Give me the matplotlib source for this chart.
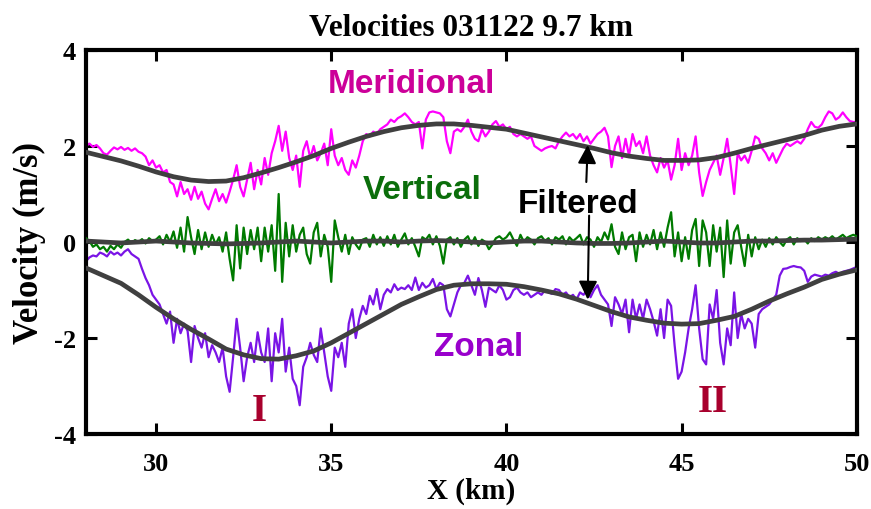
import numpy as np
import matplotlib
matplotlib.use('Agg')
import matplotlib.pyplot as plt

plt.rcParams['axes.unicode_minus'] = False

# ---------------- data ----------------
x_start, x_end = 28.0, 50.0

# raw series, one value every 0.1 km from 28.0 to 50.0
meridional = [
    2.0, 2.05, 1.98, 2.02, 1.95, 1.85, 1.82, 1.9, 1.97, 1.93,
    1.98, 1.92, 1.96, 1.9, 1.95, 1.88, 1.85, 1.78, 1.6, 1.7,
    1.55, 1.6, 1.45, 1.5, 1.25, 1.2, 0.95, 1.25, 1.0, 1.1,
    0.88, 1.15, 0.9, 1.05, 0.8, 0.68, 0.9, 1.1, 0.85, 1.0,
    0.82, 1.05, 1.3, 1.6, 1.15, 0.95, 1.3, 1.65, 1.1, 1.5,
    1.2, 1.75, 1.4, 1.85, 2.1, 2.42, 1.9, 2.3, 1.75, 1.5,
    1.8, 1.15, 1.9, 2.1, 1.75, 2.0, 1.7, 1.85, 2.05, 1.6,
    2.35, 1.8, 1.6, 1.75, 1.5, 1.4, 1.7, 1.55, 1.8, 2.1,
    2.25, 2.2, 2.3, 2.25, 2.35, 2.4, 2.45, 2.55, 2.5, 2.58,
    2.62, 2.68, 2.6, 2.5, 2.45, 2.5, 1.95, 2.55, 2.7, 2.72,
    2.7, 2.68, 2.6, 2.1, 1.85, 2.3, 2.35, 2.3, 2.4, 2.55,
    2.3, 2.15, 2.1, 2.35, 2.2, 2.3, 2.45, 2.52, 2.4, 2.45,
    2.35, 2.4, 2.25, 2.2, 2.25, 2.2, 2.15, 2.2, 2.0, 1.95,
    1.9, 1.95, 1.98, 2.0, 1.95, 2.1, 2.2, 2.28, 2.2, 2.25,
    2.15, 2.25, 2.1, 2.2, 2.05, 2.15, 2.25, 2.3, 2.38, 2.2,
    1.56, 2.0, 2.2, 1.75, 2.15, 1.8, 2.25, 2.0, 2.1, 1.85,
    2.2, 1.8, 1.6, 1.45, 1.75, 1.55, 1.7, 1.3, 1.6, 2.15,
    1.5, 1.85, 1.6, 1.8, 2.2, 1.45, 0.96, 1.25, 1.5, 1.65,
    1.8, 1.4, 1.75, 2.15, 1.6, 1.0, 1.85, 1.7, 1.8, 1.65,
    1.9, 2.2, 2.15, 1.95, 1.85, 1.7, 1.85, 1.65, 1.8, 1.95,
    2.05, 2.0, 2.05, 2.1, 2.05, 2.15, 2.35, 2.5, 2.4, 2.38,
    2.45, 2.6, 2.72, 2.68, 2.55, 2.6, 2.7, 2.6, 2.52, 2.5,
    2.5,
]

vertical = [
    0.08, 0.02, -0.1, -0.05, -0.15, -0.1, -0.2, -0.08, -0.15, -0.05,
    -0.12, 0.0, 0.05, -0.02, 0.04, 0.0, 0.06, -0.03, 0.08, 0.02,
    0.05, 0.12, -0.05, 0.15, 0.0, 0.22, -0.12, 0.3, -0.2, 0.52,
    0.1, -0.25, 0.25, -0.15, 0.2, -0.1, 0.15, -0.05, 0.1, -0.2,
    0.2, -0.35, -0.8, 0.35, -0.55, 0.3, -0.25, 0.25, -0.15, 0.3,
    -0.4, 0.3, -0.2, 0.35, -0.6, 1.0, -0.83, 0.4, -0.3, 0.35,
    -0.2, 0.15, 0.3, -0.25, -0.45, 0.2, 0.4, -0.3, 0.15, -0.1,
    -0.83, 0.45, 0.1, -0.2, 0.15, -0.25, 0.1, -0.05, -0.15, 0.05,
    0.08, -0.1, 0.15, -0.05, 0.1, -0.08, 0.12, -0.05, 0.15, -0.1,
    0.05, 0.18, -0.05, 0.08, -0.1, -0.3, 0.1, 0.05, 0.15, -0.05,
    0.12, -0.08, -0.45, 0.05, 0.1, -0.05, 0.08, -0.1, 0.05, 0.12,
    -0.05, 0.1, -0.08, 0.05, 0.0, -0.15, -0.05, 0.08, 0.12, 0.05,
    0.1, 0.2, 0.05, -0.08, 0.15, 0.0, 0.1, 0.05, -0.05, 0.08,
    0.12, 0.02, 0.08, -0.05, 0.1, 0.05, 0.12, -0.05, 0.1, 0.02,
    0.08, 0.15, -0.05, 0.1, 0.05, -0.1, 0.1, 0.0, 0.2, 0.05,
    0.37, -0.1, -0.25, 0.2, -0.15, 0.1, 0.15, -0.4, 0.2, -0.1,
    0.15, -0.05, 0.25, -0.15, 0.2, -0.1, 0.3, 0.62, -0.3, 0.2,
    -0.4, 0.1, -0.35, 0.25, 0.48, -0.5, 0.45, 0.2, -0.5, 0.35,
    -0.2, 0.3, -0.73, 0.45, -0.45, 0.2, 0.35, -0.1, -0.5, 0.15,
    -0.3, 0.1, -0.15, 0.05, -0.1, 0.08, -0.05, 0.1, 0.0, -0.08,
    0.05, 0.1, -0.05, 0.08, 0.02, 0.06, -0.03, 0.08, 0.02, 0.1,
    0.05, 0.1, 0.06, 0.12, 0.05, 0.1, 0.15, 0.08, 0.12, 0.15,
    0.12,
]

zonal = [
    -0.4, -0.32, -0.28, -0.3, -0.22, -0.25, -0.3, -0.2, -0.26, -0.22,
    -0.28, -0.2, -0.15, -0.25, -0.3, -0.35, -0.56, -0.75, -0.9, -1.1,
    -1.2, -1.3, -1.5, -1.7, -1.45, -2.1, -1.6, -1.9, -1.7, -1.85,
    -2.5, -1.75, -2.0, -2.2, -1.9, -2.4, -2.15, -2.3, -2.5, -2.2,
    -2.8, -3.12, -2.4, -1.6, -2.2, -2.9, -2.4, -2.1, -2.5, -1.88,
    -2.3, -2.5, -1.8, -2.9, -1.9, -2.3, -1.6, -2.7, -2.2, -2.85,
    -3.0, -3.4, -2.6, -2.4, -2.1, -2.35, -2.5, -1.8, -2.3, -2.8,
    -3.1, -2.2, -2.4, -2.1, -2.6, -1.7, -1.4, -2.0, -1.6, -1.33,
    -1.5, -1.12, -1.3, -0.98, -1.4, -1.1, -0.98, -1.05, -0.88, -1.0,
    -0.95, -0.98, -0.9, -1.0, -0.74, -1.0, -0.85, -0.95, -0.9, -0.77,
    -0.98, -0.85, -0.9, -1.4, -1.55, -1.3, -1.05, -0.9, -0.85, -0.7,
    -0.9, -1.1, -0.75, -1.0, -1.35, -0.95, -1.0, -1.05, -0.9, -1.0,
    -1.2, -1.15, -1.0, -0.95, -1.05, -1.1, -1.05, -1.15, -1.1, -1.05,
    -1.1, -1.0, -1.05, -1.08, -0.98, -1.0, -1.1, -1.05, -1.15, -1.1,
    -1.2, -1.05, -1.1, -1.0, -1.15, -1.0, -0.9, -1.1, -1.2, -1.3,
    -1.75, -1.15, -1.3, -1.5, -1.2, -1.88, -1.2, -1.6, -1.3, -1.6,
    -1.2, -1.4, -1.65, -1.95, -1.4, -2.0, -1.2, -1.33, -2.15, -2.85,
    -2.7, -2.3, -1.8, -1.4, -0.9, -1.8, -2.44, -2.55, -1.3, -1.6,
    -1.0, -2.1, -2.55, -1.8, -2.15, -1.05, -2.0, -1.5, -1.8, -1.6,
    -1.7, -2.2, -1.5, -1.4, -1.35, -1.3, -1.2, -1.1, -0.7, -0.56,
    -0.55, -0.52, -0.5, -0.52, -0.53, -0.6, -0.83, -0.72, -0.68, -0.7,
    -0.72, -0.68, -0.7, -0.65, -0.62, -0.66, -0.62, -0.6, -0.58, -0.55,
    -0.52,
]

# filtered series, one value every 0.5 km from 28.0 to 50.0
meridional_filt = [
    1.87, 1.78, 1.69, 1.58, 1.46, 1.36, 1.29, 1.26, 1.27, 1.34,
    1.44, 1.55, 1.67, 1.80, 1.95, 2.08, 2.20, 2.30, 2.38, 2.43,
    2.46, 2.46, 2.43, 2.39, 2.35, 2.27, 2.19, 2.11, 2.03, 1.95,
    1.86, 1.79, 1.74, 1.70, 1.70, 1.71, 1.76, 1.85, 1.95, 2.04,
    2.13, 2.22, 2.33, 2.41, 2.46,
]
vertical_filt = [
    0.02, 0.0, -0.02, 0.0, 0.02, 0.0, -0.02, -0.03, -0.04, -0.03,
    -0.02, 0.0, 0.02, 0.0, -0.02, 0.0, 0.02, 0.02, 0.0, 0.02,
    0.03, 0.02, 0.0, -0.02, 0.0, 0.02, 0.02, 0.0, -0.02, -0.03,
    -0.03, -0.02, 0.0, 0.02, 0.0, -0.02, -0.02, 0.0, 0.02, 0.02,
    0.03, 0.04, 0.04, 0.05, 0.06,
]
zonal_filt = [
    -0.54, -0.70, -0.86, -1.10, -1.36, -1.60, -1.82, -2.02, -2.23, -2.35,
    -2.43, -2.44, -2.37, -2.27, -2.10, -1.90, -1.70, -1.50, -1.30, -1.14,
    -0.99, -0.90, -0.87, -0.87, -0.88, -0.93, -1.00, -1.08, -1.19, -1.32,
    -1.45, -1.56, -1.63, -1.69, -1.71, -1.70, -1.63, -1.55, -1.40, -1.23,
    -1.08, -0.94, -0.78, -0.67, -0.58,
]

x_raw = np.linspace(x_start, x_end, len(meridional))
x_filt = np.linspace(x_start, x_end, len(meridional_filt))

xticks = [30, 35, 40, 45, 50]
yticks = [-4, -2, 0, 2, 4]

# ---------------- figure ----------------
serif = ['Liberation Serif', 'DejaVu Serif']
sans = ['Liberation Sans', 'DejaVu Sans']

fig = plt.figure(figsize=(8.71, 5.10), dpi=100)
ax = fig.add_axes([0.0987, 0.147, 0.885, 0.753])

ax.plot(x_raw, meridional, color='#ff00ff', lw=1.6, zorder=2)
ax.plot(x_raw, zonal, color='#7a14e6', lw=1.6, zorder=2)
ax.plot(x_raw, vertical, color='#007a00', lw=1.6, zorder=3)

for yf in (meridional_filt, vertical_filt, zonal_filt):
    ax.plot(x_filt, yf, color='#404040', lw=3.4, solid_capstyle='round', zorder=4)

ax.set_xlim(x_start, x_end)
ax.set_ylim(-4, 4)
ax.set_xticks(xticks)
ax.set_yticks(yticks)
ax.tick_params(direction='in', length=8, width=2.2, top=True, right=True, pad=7)
for lab in ax.get_xticklabels() + ax.get_yticklabels():
    lab.set_fontfamily(serif)
    lab.set_fontweight('bold')
    lab.set_fontsize(19)
ax.tick_params(axis='x', pad=13)
for sp in ax.spines.values():
    sp.set_linewidth(3)

ax.set_title('Velocities 031122 9.7 km', fontsize=22.5, fontweight='bold',
             family=serif, pad=11)
ax.set_xlabel('X (km)', fontsize=21, fontweight='bold', family=serif, labelpad=1)
ax.set_ylabel('Velocity (m/s)', fontsize=25, fontweight='bold', family=serif, labelpad=6)

# in-plot labels
ax.text(37.3, 3.3, 'Meridional', color='#cc0099', fontsize=24, fontweight='bold',
        family=sans, ha='center', va='center')
ax.text(37.6, 1.1, 'Vertical', color='#0b6e0b', fontsize=24, fontweight='bold',
        family=sans, ha='center', va='center')
ax.text(42.05, 0.8, 'Filtered', color='black', fontsize=24, fontweight='bold',
        family=sans, ha='center', va='center', zorder=6)
ax.text(39.2, -2.17, 'Zonal', color='#9900cc', fontsize=24, fontweight='bold',
        family=sans, ha='center', va='center')
ax.text(32.95, -3.5, 'I', color='#a8002d', fontsize=28, fontweight='bold',
        family=serif, ha='center', va='center')
ax.text(45.9, -3.32, 'II', color='#a8002d', fontsize=28, fontweight='bold',
        family=serif, ha='center', va='center')

arrow = dict(arrowstyle='-|>', color='black', lw=1.5, mutation_scale=28,
             shrinkA=0, shrinkB=0)
ax.annotate('', xy=(42.32, 2.02), xytext=(42.28, 1.25), arrowprops=arrow, zorder=6)
ax.annotate('', xy=(42.32, -1.2), xytext=(42.36, 0.55), arrowprops=arrow, zorder=6)

fig.savefig('out.png', dpi=100)
